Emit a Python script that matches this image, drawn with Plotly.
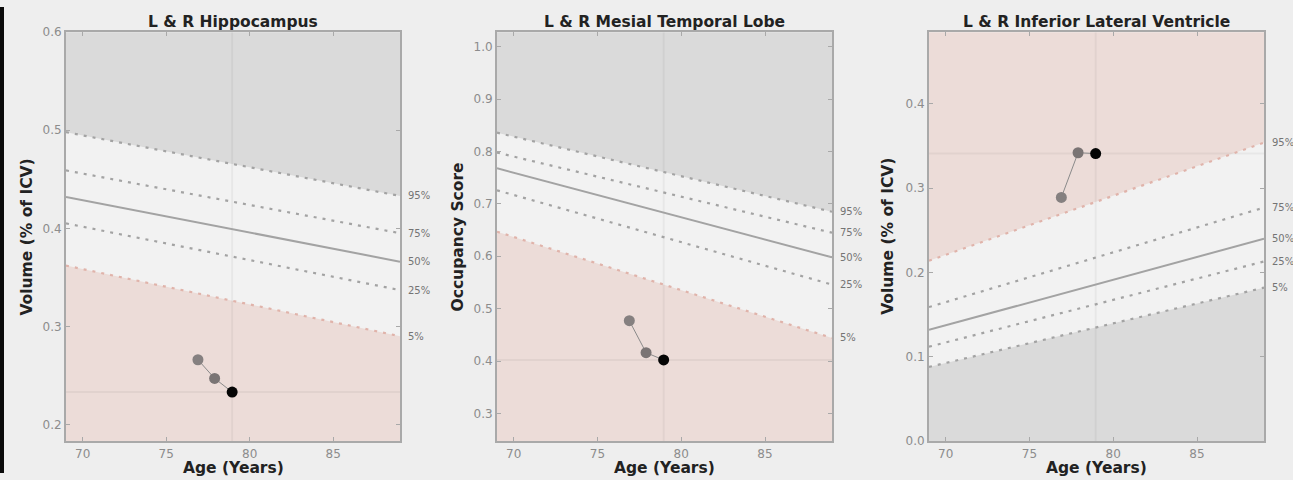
import plotly.graph_objects as go
from plotly.subplots import make_subplots

# ---------------- data ----------------
AGES = [69, 89]                       # ends of the normative percentile curves
PCT_LABELS = ["95%", "75%", "50%", "25%", "5%"]

HIPPO_P95 = [0.498, 0.433]
HIPPO_P75 = [0.459, 0.395]
HIPPO_P50 = [0.432, 0.366]
HIPPO_P25 = [0.405, 0.337]
HIPPO_P05 = [0.362, 0.290]

MTL_P95 = [0.836, 0.685]
MTL_P75 = [0.798, 0.645]
MTL_P50 = [0.768, 0.598]
MTL_P25 = [0.726, 0.546]
MTL_P05 = [0.647, 0.444]

ILV_P95 = [0.214, 0.354]
ILV_P75 = [0.159, 0.277]
ILV_P50 = [0.132, 0.240]
ILV_P25 = [0.112, 0.213]
ILV_P05 = [0.088, 0.182]

PATIENT_AGES = [76.9, 77.9, 78.95]
HIPPO_PATIENT = [0.266, 0.247, 0.233]
MTL_PATIENT = [0.477, 0.416, 0.402]
ILV_PATIENT = [0.289, 0.342, 0.341]

TITLES = ["L & R Hippocampus", "L & R Mesial Temporal Lobe", "L & R Inferior Lateral Ventricle"]
YTITLES = ["Volume (% of ICV)", "Occupancy Score", "Volume (% of ICV)"]
XTITLE = "Age (Years)"
XTICKS = [70, 75, 80, 85]

# ---------------- style ----------------
W, H = 1293, 480
PLOT_TOP, PLOT_BOT = 25.9, 447.2       # layout pixels of plot area (top / bottom)
PAPER_BG = "#eeeeee"
PLOT_BG = "#f2f2f2"
GRAY_ZONE = "#dadada"
PINK_ZONE = "#ecdcd8"
LINE_GRAY = "#a3a3a3"
LINE_PINK = "#e0b3aa"
AXIS_COL = "#a9a9a9"
TICK_FONT = dict(family="DejaVu Sans", size=12, color="#8c8c8c")
BOLD = "DejaVu Sans"
BOLD_SIZE = 15.5

panels = [
    dict(p=[HIPPO_P95, HIPPO_P75, HIPPO_P50, HIPPO_P25, HIPPO_P05], pts=HIPPO_PATIENT,
         yr=[0.183, 0.6], yt=[0.2, 0.3, 0.4, 0.5, 0.6], low_abnormal=True,
         dom=[66, 400]),
    dict(p=[MTL_P95, MTL_P75, MTL_P50, MTL_P25, MTL_P05], pts=MTL_PATIENT,
         yr=[0.247, 1.028], yt=[0.3, 0.4, 0.5, 0.6, 0.7, 0.8, 0.9, 1.0], low_abnormal=True,
         dom=[497, 832]),
    dict(p=[ILV_P95, ILV_P75, ILV_P50, ILV_P25, ILV_P05], pts=ILV_PATIENT,
         yr=[0.0, 0.485], yt=[0.0, 0.1, 0.2, 0.3, 0.4], low_abnormal=False,
         dom=[929, 1264]),
]

fig = make_subplots(rows=1, cols=3)
annotations = []
XR = [69, 89]

for i, pn in enumerate(panels):
    col = i + 1
    xa = "x" if i == 0 else f"x{col}"
    ya = "y" if i == 0 else f"y{col}"
    p95, p75, p50, p25, p05 = pn["p"]
    top_col = GRAY_ZONE if pn["low_abnormal"] else PINK_ZONE
    bot_col = PINK_ZONE if pn["low_abnormal"] else GRAY_ZONE
    ytop = pn["yr"][1] + 0.05

    # top zone (above 95%)
    fig.add_trace(go.Scatter(x=AGES, y=[ytop, ytop], mode="lines", line=dict(width=0),
                             hoverinfo="skip", showlegend=False), row=1, col=col)
    fig.add_trace(go.Scatter(x=AGES, y=p95, mode="lines", line=dict(width=0),
                             fill="tonexty", fillcolor=top_col,
                             hoverinfo="skip", showlegend=False), row=1, col=col)
    # bottom zone (below 5%)
    fig.add_trace(go.Scatter(x=AGES, y=p05, mode="lines", line=dict(width=0),
                             fill="tozeroy", fillcolor=bot_col,
                             hoverinfo="skip", showlegend=False), row=1, col=col)

    # crosshair at latest measurement
    fig.add_trace(go.Scatter(x=[PATIENT_AGES[-1], PATIENT_AGES[-1]], y=[pn["yr"][0], pn["yr"][1]],
                             mode="lines", line=dict(color="rgba(0,0,0,0.045)", width=2),
                             hoverinfo="skip", showlegend=False), row=1, col=col)
    fig.add_trace(go.Scatter(x=XR, y=[pn["pts"][-1], pn["pts"][-1]],
                             mode="lines", line=dict(color="rgba(0,0,0,0.045)", width=2),
                             hoverinfo="skip", showlegend=False), row=1, col=col)

    # percentile lines
    for j, vals in enumerate(pn["p"]):
        lbl = PCT_LABELS[j]
        if lbl == "50%":
            ln = dict(color=LINE_GRAY, width=2)
        else:
            pinkline = (lbl == "5%" and pn["low_abnormal"]) or (lbl == "95%" and not pn["low_abnormal"])
            ln = dict(color=LINE_PINK if pinkline else LINE_GRAY, width=2.2, dash="3px,6px")
        fig.add_trace(go.Scatter(x=AGES, y=vals, mode="lines", line=ln,
                                 hoverinfo="skip", showlegend=False), row=1, col=col)
        annotations.append(dict(x=1.018, xref=f"{xa} domain", y=vals[-1], yref=ya,
                                text=lbl, showarrow=False, xanchor="left", yanchor="middle",
                                font=dict(family="DejaVu Sans", size=10, color="#747474")))

    # patient measurements
    fig.add_trace(go.Scatter(x=PATIENT_AGES, y=pn["pts"], mode="lines+markers",
                             line=dict(color="#8a8a8a", width=1),
                             marker=dict(size=11, color=["#858080", "#7a7474", "#050505"],
                                         line=dict(width=0)),
                             showlegend=False), row=1, col=col)

    d0, d1 = pn["dom"]
    fig.update_xaxes(row=1, col=col, domain=[d0 / W, d1 / W], range=XR,
                     tickvals=XTICKS, ticks="inside", ticklen=4, tickcolor=AXIS_COL,
                     showline=True, linecolor=AXIS_COL, linewidth=2, mirror="ticks",
                     showgrid=False, zeroline=False, tickfont=TICK_FONT)
    fig.update_yaxes(row=1, col=col, domain=[1 - PLOT_BOT / H, 1 - PLOT_TOP / H], range=pn["yr"],
                     tickvals=pn["yt"], tickformat=".1f", ticks="inside", ticklen=4,
                     tickcolor=AXIS_COL, showline=True, linecolor=AXIS_COL, linewidth=2,
                     mirror="ticks", showgrid=False, zeroline=False, tickfont=TICK_FONT)

    annotations.append(dict(x=0.5, xref=f"{xa} domain", y=1.024, yref=f"{ya} domain",
                            text=f"<b>{TITLES[i]}</b>", showarrow=False, yanchor="middle",
                            font=dict(family=BOLD, size=BOLD_SIZE, color="#222222")))
    annotations.append(dict(x=0.5, xref=f"{xa} domain", y=-0.066, yref=f"{ya} domain",
                            text=f"<b>{XTITLE}</b>", showarrow=False, yanchor="middle",
                            font=dict(family=BOLD, size=BOLD_SIZE, color="#222222")))
    xoff = [-0.117, -0.117, -0.122][i]
    annotations.append(dict(x=xoff, xref=f"{xa} domain", y=0.5, yref=f"{ya} domain",
                            text=f"<b>{YTITLES[i]}</b>", showarrow=False, textangle=-90,
                            xanchor="center", yanchor="middle",
                            font=dict(family=BOLD, size=BOLD_SIZE, color="#222222")))

shapes = [
    dict(type="rect", xref="paper", yref="paper", x0=0, x1=4 / W, y0=0, y1=1,
         fillcolor="#0a0a0a", line=dict(width=0), layer="above"),
]

fig.update_layout(autosize=True, margin=dict(l=0, r=0, t=0, b=0),
                  paper_bgcolor=PAPER_BG, plot_bgcolor=PLOT_BG,
                  annotations=annotations, shapes=shapes, showlegend=False)

fig.write_html("out.html",
               default_width="100vw", default_height="100vh",
               config={"displayModeBar": False},
               post_script="document.body.style.margin='0';document.body.style.padding='0';"
                           "document.documentElement.style.overflow='hidden';"
                           "document.body.style.overflow='hidden';")
